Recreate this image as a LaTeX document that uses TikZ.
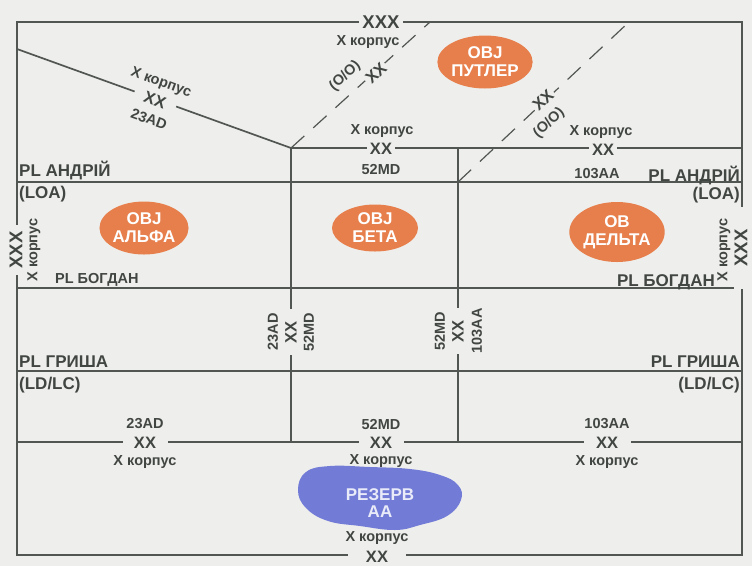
\documentclass[tikz,border=0pt]{standalone}
\usepackage{fontspec}
\setmainfont{Liberation Sans}
\usetikzlibrary{shapes.geometric, positioning}
\definecolor{mapbg}{RGB}{238,239,237}
\definecolor{inkgray}{RGB}{82,86,82}
\definecolor{textgray}{RGB}{66,70,66}
\definecolor{objorange}{RGB}{231,127,76}
\definecolor{resblue}{RGB}{114,124,214}
\tikzset{
  bound/.style      = {draw=inkgray, line width=1.7pt},
  objbound/.style   = {draw=inkgray, line width=1.2pt, dash pattern=on 18pt off 12pt},
  echelon/.style    = {fill=mapbg, inner sep=3pt, text=textgray, font=\fontsize{16.5}{16.5}\selectfont\bfseries},
  corpsmark/.style  = {echelon, font=\fontsize{18.5}{18.5}\selectfont\bfseries},
  unitlbl/.style    = {inner sep=0pt, text=textgray, font=\fontsize{14.5}{14.5}\selectfont\bfseries},
  phaselbl/.style   = {inner sep=0pt, text=textgray, font=\fontsize{17}{17}\selectfont\bfseries},
  objective/.style  = {ellipse, fill=objorange, text=white, align=center, inner sep=0pt,
                       font=\fontsize{17}{18}\selectfont\bfseries},
  reservelbl/.style = {text=white!85!resblue, align=center, inner sep=0pt,
                       font=\fontsize{17}{17}\selectfont\bfseries},
}

\begin{document}
\begin{tikzpicture}[x=1pt, y=-1pt]

% ===================== фон =====================
\fill[mapbg] (0,0) rectangle (752,566);
\useasboundingbox (0,0) rectangle (752,566);

% ===================== опорні точки =====================
\coordinate (nw) at (17,22);
\coordinate (se) at (742,555);
\coordinate (plA-w) at (17,182);   \coordinate (plA-e) at (742,182);
\coordinate (plB-w) at (17,288);   \coordinate (plB-e) at (742,288);
\coordinate (plG-w) at (17,371);   \coordinate (plG-e) at (742,371);
\coordinate (rear-w) at (17,442);  \coordinate (rear-e) at (742,442);
\coordinate (diag-w) at (17,49);
\coordinate (jn1) at (291,148);
\coordinate (jn2) at (458,148);
\coordinate (fwd-e) at (742,148);
\coordinate (v1-s) at (291,442);
\coordinate (v2-s) at (458,442);
\coordinate (dsh1-n) at (430,22);
\coordinate (dsh2-s) at (458,182);
\coordinate (dsh2-n) at (629,22);

% ===================== межі та рубежі =====================
\draw[bound] (nw) rectangle (se);
\draw[bound] (plA-w) -- (plA-e);
\draw[bound] (plB-w) -- (plB-e);
\draw[bound] (plG-w) -- (plG-e);
\draw[bound] (rear-w) -- (rear-e);
\draw[bound] (diag-w) -- (jn1) -- (fwd-e);
\draw[bound] (jn1) -- (v1-s);
\draw[bound] (jn2) -- (v2-s);
\draw[objbound] (jn1) -- (dsh1-n);
\draw[objbound] (dsh2-s) -- (dsh2-n);

% ===================== об'єкти =====================
\node[objective, minimum width=86pt, minimum height=53pt] (objP) at (485,62) {OBJ\\ПУТЛЕР};
\node[objective, minimum width=86pt, minimum height=53pt] (objA) at (144,228) {OBJ\\АЛЬФА};
\node[objective, minimum width=86pt, minimum height=47pt] (objB) at (375,228) {OBJ\\БЕТА};
\node[objective, minimum width=76pt, minimum height=60pt] (objD) at (617,232) {OB\\ДЕЛЬТА};

% резерв
\fill[resblue] plot[smooth cycle, tension=0.7] coordinates {
  (298,490) (306,472) (330,466) (370,467) (410,469) (440,475) (458,485)
  (461,500) (447,516) (420,525) (395,530) (360,526) (328,521) (306,508)};
\node[reservelbl] (reserve) at (380,503) {РЕЗЕРВ\\АА};

% ===================== корпус (XXX) =====================
\node[corpsmark] (xxxN) at (381,22) {XXX};
\node[unitlbl] (corpsN) at (368,42) {X корпус};
\node[corpsmark, rotate=90, inner sep=2pt, minimum width=50pt] (xxxW) at (16,250) {XXX};
\node[unitlbl, rotate=90] (corpsW) at (34,250) {X корпус};
\node[corpsmark, rotate=90, inner sep=1pt, minimum width=82pt] (xxxE) at (741,248) {XXX};
\node[unitlbl, rotate=90] (corpsE) at (724,250) {X корпус};

% ===================== дивізії (XX) =====================
% ліва коса межа
\node[echelon, rotate=-20, inner sep=2pt, minimum width=44pt] (xx23f) at (155,100) {XX};
\node[unitlbl, rotate=-20] (corps23f) at (161,83) {X корпус};
\node[unitlbl, rotate=-20] (ad23f) at (149,119) {23AD};

% пунктирні межі
\node[echelon, rotate=43, inner sep=2pt] (xxO1) at (376,73) {XX};
\node[unitlbl, rotate=43] (oo1) at (345,76) {(O/O)};
\node[echelon, rotate=43, inner sep=2pt] (xxO2) at (543,100) {XX};
\node[unitlbl, rotate=43] (oo2) at (549,123) {(O/O)};

% передня межа
\node[echelon] (xx52f) at (381,149) {XX};
\node[unitlbl] (corps52f) at (382,131) {X корпус};
\node[unitlbl] (md52f) at (381,170) {52MD};
\node[echelon] (xx103f) at (603,150) {XX};
\node[unitlbl] (corps103f) at (601,132) {X корпус};
\node[unitlbl] (aa103f) at (597,174) {103AA};

% розмежувальні лінії
\node[echelon, rotate=90, minimum width=46pt] (xxv1) at (291,332) {XX};
\node[unitlbl, rotate=90] (ad23v) at (273,332) {23AD};
\node[unitlbl, rotate=90] (md52v) at (309,332) {52MD};
\node[echelon, rotate=90, minimum width=46pt] (xxv2) at (458,331) {XX};
\node[unitlbl, rotate=90] (md52v2) at (440,331) {52MD};
\node[unitlbl, rotate=90] (aa103v) at (477,331) {103AA};

% тилова межа
\node[echelon, minimum width=45pt] (xx23r) at (145,443) {XX};
\node[unitlbl] (ad23r) at (145,424) {23AD};
\node[unitlbl] (corps23r) at (145,462) {X корпус};
\node[echelon, minimum width=45pt] (xx52r) at (381,443) {XX};
\node[unitlbl] (md52r) at (381,424) {52MD};
\node[unitlbl] (corps52r) at (381,461) {X корпус};
\node[echelon, minimum width=47pt] (xx103r) at (607,443) {XX};
\node[unitlbl] (aa103r) at (607,424) {103AA};
\node[unitlbl] (corps103r) at (607,462) {X корпус};
\node[echelon, minimum width=58pt] (xxS) at (377,557) {XX};
\node[unitlbl] (corpsS) at (377,538) {X корпус};

% ===================== рубежі: підписи =====================
\node[phaselbl, anchor=west] (plAw) at (19,170) {PL АНДРІЙ};
\node[phaselbl, anchor=west] (loaW) at (19,194) {(LOA)};
\node[phaselbl, anchor=east] (plAe) at (740,175) {PL АНДРІЙ};
\node[phaselbl, anchor=east] (loaE) at (740,195) {(LOA)};
\node[unitlbl, anchor=west] (plBw) at (55,280) {PL БОГДАН};
\node[phaselbl, anchor=east] (plBe) at (715,282) {PL БОГДАН};
\node[phaselbl, anchor=west] (plGw) at (19,362) {PL ГРИША};
\node[phaselbl, anchor=east] (plGe) at (740,362) {PL ГРИША};
\node[phaselbl, anchor=west] (ldW) at (19,385) {(LD/LC)};
\node[phaselbl, anchor=east] (ldE) at (740,385) {(LD/LC)};

\end{tikzpicture}
\end{document}
